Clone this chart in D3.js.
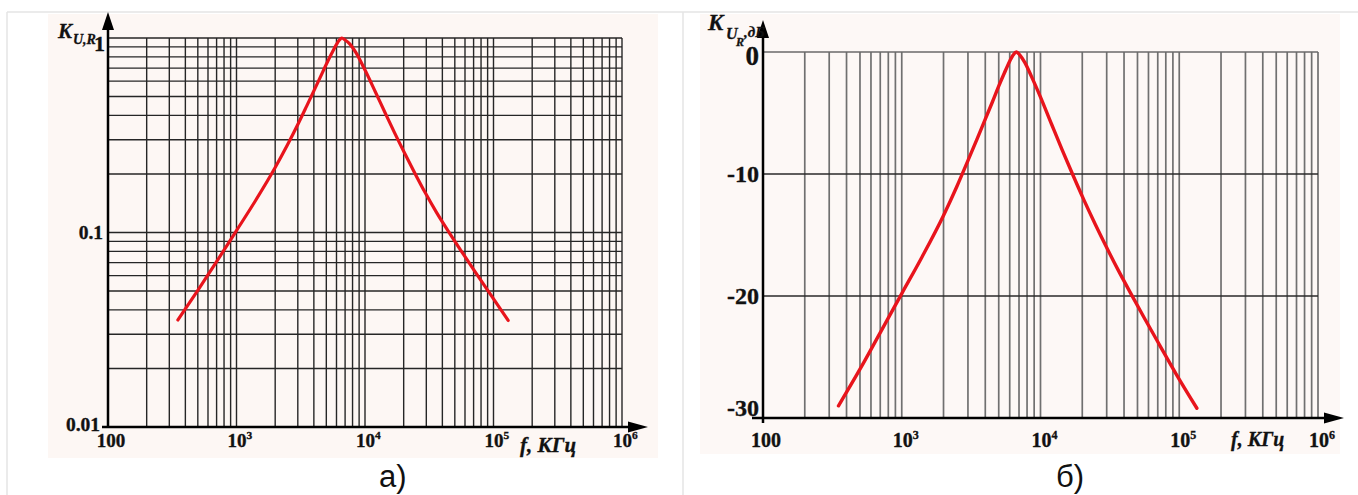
<!DOCTYPE html>
<html><head><meta charset="utf-8">
<script src="https://cdn.jsdelivr.net/npm/d3@7/dist/d3.min.js"></script>
<style>
html,body{margin:0;padding:0;background:#fff;}
svg{display:block;}
.tk{font-family:"Liberation Serif","Times New Roman",serif;font-weight:bold;fill:#111;stroke:#111;stroke-width:0.35px;}
.it{font-family:"Liberation Serif","Times New Roman",serif;font-weight:bold;font-style:italic;fill:#111;stroke:#111;stroke-width:0.3px;}
.cap{font-family:"Liberation Sans",Arial,sans-serif;fill:#111;}
</style>
</head><body>
<script>
// ---- data ----
const freqA = [350, 500, 700, 1000, 1400, 2000, 2500, 3000, 3500, 4000, 4500, 5000, 5500, 6000, 6300, 6600, 7000, 7600, 8500, 10000, 12000, 14300, 17000, 20500, 25000, 29300, 36000, 44300, 56000, 72000, 95000, 130000];
const gainA = [0.0355, 0.0504, 0.0708, 0.1023, 0.1452, 0.2158, 0.2831, 0.3589, 0.4436, 0.5346, 0.631, 0.733, 0.832, 0.927, 0.973, 1.0, 0.977, 0.933, 0.841, 0.684, 0.531, 0.414, 0.325, 0.253, 0.196, 0.161, 0.127, 0.102, 0.0805, 0.0628, 0.0479, 0.0353];
const freqB = [350, 500, 700, 1000, 1400, 2000, 2500, 3000, 3500, 4000, 4500, 5000, 5500, 6000, 6350, 6700, 7100, 7700, 8600, 10000, 12000, 14300, 17000, 20500, 25000, 29300, 36000, 44300, 56000, 72000, 95000, 134000];
const gainDbB = [-29.0, -26.0, -23.0, -19.8, -16.8, -13.4, -11.0, -8.9, -7.1, -5.5, -4.1, -2.8, -1.7, -0.75, -0.25, 0, -0.25, -0.85, -2.0, -3.7, -5.9, -8.0, -10.0, -12.1, -14.2, -15.8, -17.8, -19.7, -21.8, -24.0, -26.4, -29.2];
const xTickValues = [100, 1e3, 1e4, 1e5, 1e6];
const xTickExp = ["", "3", "4", "5", "6"];
const yTickLabelsA = ["0.01", "0.1", "1"];
const yTicksB = [0, -10, -20, -30];
const yTickLabelsB = ["0", "-10", "-20", "-30"];

const W = 1358, H = 495;
const svg = d3.select("body").append("svg").attr("width", W).attr("height", H);

// frames (scan borders) and faint tint
svg.append("rect").attr("x", 48).attr("y", 14).attr("width", 610).attr("height", 444).attr("fill", "#fdf7f4");
svg.append("rect").attr("x", 700).attr("y", 14).attr("width", 640).attr("height", 440).attr("fill", "#fdf8f6");
svg.append("line").attr("x1", 7).attr("x2", W).attr("y1", 12).attr("y2", 12).attr("stroke", "#e4e4e4").attr("stroke-width", 1.5);
svg.append("line").attr("x1", 7).attr("x2", 7).attr("y1", 12).attr("y2", H).attr("stroke", "#e4e4e4").attr("stroke-width", 1.5);
svg.append("line").attr("x1", 683).attr("x2", 683).attr("y1", 12).attr("y2", H).attr("stroke", "#e4e4e4").attr("stroke-width", 1.5);

function arrowUp(g, x, yTip) {
  g.append("path").attr("d", `M${x},${yTip} L${x-6},${yTip+18} L${x+6},${yTip+18} Z`).attr("fill", "#000");
}
function arrowRight(g, xTip, y) {
  g.append("path").attr("d", `M${xTip},${y} L${xTip-20},${y-5.5} L${xTip-20},${y+5.5} Z`).attr("fill", "#000");
}
function xLabels(g, x, yBase, size) {
  xTickValues.forEach((v, i) => {
    const px = x(v);
    if (xTickExp[i] === "") {
      g.append("text").attr("class", "tk").attr("x", px + 3).attr("y", yBase).attr("text-anchor", "middle")
        .style("font-size", size + "px").text("100");
    } else {
      const t = g.append("text").attr("class", "tk").attr("x", px - 9).attr("y", yBase).style("font-size", size + "px");
      t.append("tspan").text("10");
      t.append("tspan").attr("dy", -8).style("font-size", (size * 0.6) + "px").text(xTickExp[i]);
    }
  });
}

// ================= Chart A =================
{
  const g = svg.append("g");
  const x = d3.scaleLog().domain([100, 1e6]).range([108, 622]);
  const y = d3.scaleLog().domain([0.01, 1]).range([427, 38]);
  const gridC = "#262626";
  g.selectAll(".vg").data(x.ticks()).join("line")
    .attr("x1", d => x(d)).attr("x2", d => x(d)).attr("y1", y(1)).attr("y2", y(0.01))
    .attr("stroke", gridC).attr("stroke-width", 1.4);
  g.selectAll(".hg").data(y.ticks()).join("line")
    .attr("x1", x(100)).attr("x2", x(1e6)).attr("y1", d => y(d)).attr("y2", d => y(d))
    .attr("stroke", gridC).attr("stroke-width", 1.4);
  // axes
  g.append("line").attr("x1", 108).attr("x2", 108).attr("y1", 428).attr("y2", 22).attr("stroke", "#000").attr("stroke-width", 2.5);
  arrowUp(g, 108, 12);
  g.append("line").attr("x1", 102).attr("x2", 635).attr("y1", 427).attr("y2", 427).attr("stroke", "#000").attr("stroke-width", 2.5);
  arrowRight(g, 648, 427);
  // curve
  const line = d3.line().x((d, i) => x(freqA[i])).y(d => y(d)).curve(d3.curveMonotoneX);
  g.append("path").attr("d", line(gainA)).attr("fill", "none").attr("stroke", "#e8141c").attr("stroke-width", 3.2)
    .attr("stroke-linecap", "round").attr("stroke-linejoin", "round");
  // y tick labels
  g.append("text").attr("class", "tk").attr("x", 100).attr("y", 431).attr("text-anchor", "end").style("font-size", "19.5px").text(yTickLabelsA[0]);
  g.append("text").attr("class", "tk").attr("x", 103).attr("y", 239).attr("text-anchor", "end").style("font-size", "19.5px").text(yTickLabelsA[1]);
  g.append("text").attr("class", "tk").attr("x", 105).attr("y", 51).attr("text-anchor", "end").style("font-size", "22px").text(yTickLabelsA[2]);
  // y axis title
  g.append("text").attr("class", "it").attr("x", 58).attr("y", 38).style("font-size", "21px").text("K");
  g.append("text").attr("class", "it").attr("x", 73).attr("y", 44).style("font-size", "14px").text("U,R");
  // x tick labels
  xLabels(g, x, 447, 19);
  g.append("text").attr("class", "it").attr("x", 520).attr("y", 452).style("font-size", "21px").text("f, КГц");
  g.append("text").attr("class", "cap").attr("x", 379).attr("y", 487).style("font-size", "31px").text("а)");
}

// ================= Chart B =================
{
  const g = svg.append("g");
  const x = d3.scaleLog().domain([100, 1e6]).range([763, 1318]);
  const y = d3.scaleLinear().domain([-30, 0]).range([418, 52]);
  g.selectAll(".vg").data(x.ticks()).join("line")
    .attr("x1", d => x(d)).attr("x2", d => x(d)).attr("y1", y(0)).attr("y2", y(-30))
    .attr("stroke", "#707070").attr("stroke-width", 1.7);
  g.selectAll(".hg").data(yTicksB).join("line")
    .attr("x1", x(100)).attr("x2", x(1e6)).attr("y1", d => y(d)).attr("y2", d => y(d))
    .attr("stroke", d => d === 0 ? "#6a6a6a" : "#2a2a2a").attr("stroke-width", 1.5);
  g.append("line").attr("x1", 763).attr("x2", 763).attr("y1", 423).attr("y2", 30).attr("stroke", "#000").attr("stroke-width", 2.5);
  arrowUp(g, 763, 20);
  g.append("line").attr("x1", 752).attr("x2", 1330).attr("y1", 418).attr("y2", 418).attr("stroke", "#000").attr("stroke-width", 2.5);
  arrowRight(g, 1344, 418);
  const line = d3.line().x((d, i) => x(freqB[i])).y(d => y(d)).curve(d3.curveMonotoneX);
  g.append("path").attr("d", line(gainDbB)).attr("fill", "none").attr("stroke", "#e8141c").attr("stroke-width", 3.4)
    .attr("stroke-linecap", "round").attr("stroke-linejoin", "round");
  // y tick labels
  const yOff = [13, 8, 8, -2];
  yTicksB.forEach((v, i) => {
    g.append("text").attr("class", "tk").attr("x", 759).attr("y", y(v) + yOff[i]).attr("text-anchor", "end")
      .style("font-size", (i === 0 ? 27 : 24) + "px").text(yTickLabelsB[i]);
  });
  // y axis title
  g.append("text").attr("class", "it").attr("x", 708).attr("y", 30).style("font-size", "23px").text("K");
  g.append("text").attr("class", "it").attr("x", 726).attr("y", 39).style("font-size", "16px").text("U");
  g.append("text").attr("class", "it").attr("x", 736).attr("y", 46).style("font-size", "12px").text("R");
  g.append("text").attr("class", "it").attr("x", 744).attr("y", 37).style("font-size", "15px").text(",дБ");
  xLabels(g, x, 447, 20);
  g.append("text").attr("class", "it").attr("x", 1231).attr("y", 446).style("font-size", "20px").text("f, КГц");
  g.append("text").attr("class", "cap").attr("x", 1056).attr("y", 487).style("font-size", "31px").text("б)");
}
</script>
</body></html>
